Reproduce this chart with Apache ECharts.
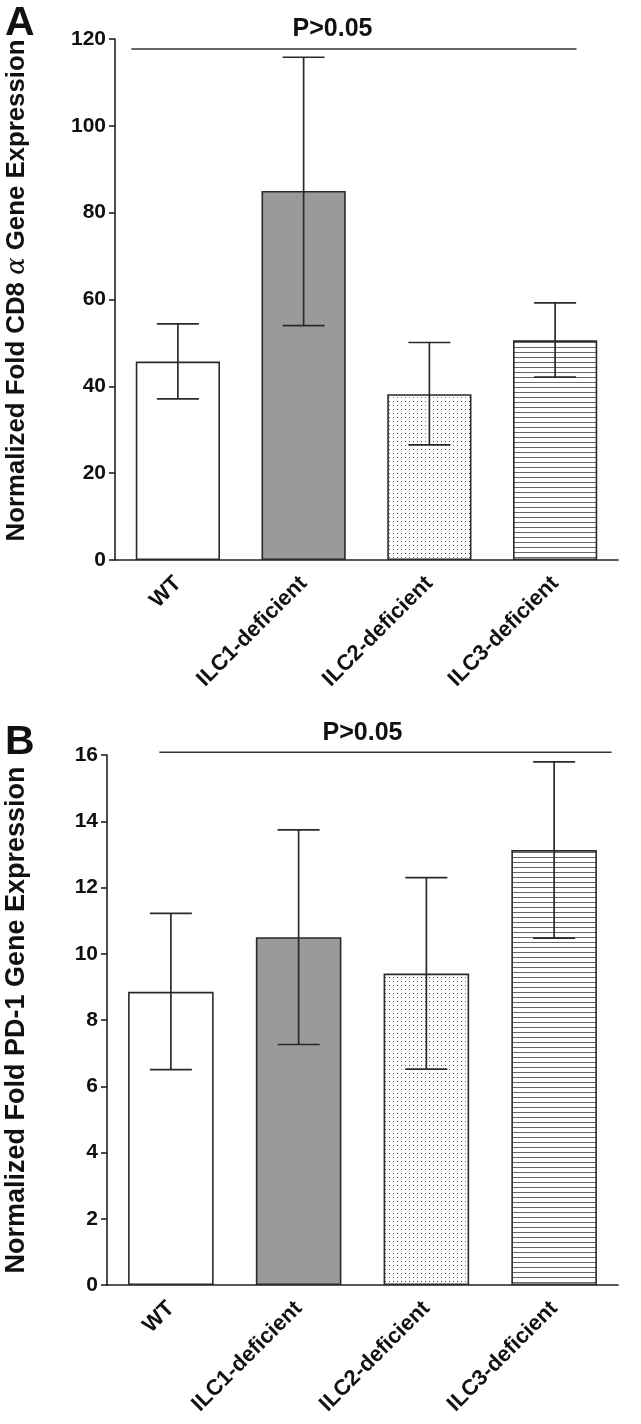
<!DOCTYPE html>
<html>
<head>
<meta charset="utf-8">
<script src="https://cdn.jsdelivr.net/npm/echarts@6/dist/echarts.min.js"></script>
<style>
html,body{margin:0;padding:0;background:#fff;}
#chart{width:641px;height:1424px;}
</style>
</head>
<body>
<div id="chart"></div>
<script>
// ---- data ----
var categories = ['WT', 'ILC1-deficient', 'ILC2-deficient', 'ILC3-deficient'];
// Panel A: CD8 alpha
var cd8Mean  = [45.7, 85.0, 38.2, 50.6];
var cd8Lower = [37.1, 54.0, 26.5, 42.1];
var cd8Upper = [54.4, 115.8, 50.1, 59.2];
var cd8Ticks = [0, 20, 40, 60, 80, 100, 120];
// Panel B: PD-1
var pd1Mean  = [8.85, 10.5, 9.4, 13.13];
var pd1Lower = [6.5, 7.26, 6.52, 10.47];
var pd1Upper = [11.22, 13.74, 12.3, 15.79];
var pd1Ticks = [0, 2, 4, 6, 8, 10, 12, 14, 16];
// significance annotations (x in category units, y in axis units)
var sigA = [-0.37, 3.17, 117.7, 1.23];   // from, to, level, text position
var sigB = [-0.09, 3.45, 16.08, 1.50];
var sigText = 'P>0.05';

// ---- fill patterns ----
function makePattern(kind) {
  var c = document.createElement('canvas');
  var ctx;
  if (kind === 'dots') {
    c.width = 4; c.height = 8;
    ctx = c.getContext('2d');
    ctx.fillStyle = '#fff'; ctx.fillRect(0, 0, 4, 8);
    ctx.fillStyle = '#444'; ctx.fillRect(1, 1, 1, 1);
    ctx.fillStyle = '#777'; ctx.fillRect(1, 5, 1, 1);
  } else {
    c.width = 4; c.height = 5;
    ctx = c.getContext('2d');
    ctx.fillStyle = '#fff'; ctx.fillRect(0, 0, 4, 5);
    ctx.fillStyle = '#666'; ctx.fillRect(0, 2, 4, 1);
  }
  return { image: c, repeat: 'repeat' };
}
var fills = ['#ffffff', '#9a9a9a', makePattern('dots'), makePattern('lines')];

var font = '"Liberation Sans", Arial, Helvetica, sans-serif';
var axisColor = '#222';

function barData(vals) {
  return vals.map(function (v, i) {
    return { value: v, itemStyle: { color: fills[i] } };
  });
}
function errData(lo, hi) {
  return lo.map(function (l, i) { return [i, l, hi[i]]; });
}
function errRender(params, api) {
  var x = api.value(0);
  var lo = api.coord([x, api.value(1)]);
  var hi = api.coord([x, api.value(2)]);
  var hw = 21;
  var st = { stroke: '#2a2a2a', lineWidth: 1.7 };
  return {
    type: 'group',
    children: [
      { type: 'line', shape: { x1: lo[0], y1: lo[1], x2: hi[0], y2: hi[1] }, style: st },
      { type: 'line', shape: { x1: hi[0] - hw, y1: hi[1], x2: hi[0] + hw, y2: hi[1] }, style: st },
      { type: 'line', shape: { x1: lo[0] - hw, y1: lo[1], x2: lo[0] + hw, y2: lo[1] }, style: st }
    ]
  };
}
function sigRender(params, api) {
  var p1 = api.coord([api.value(0), api.value(2)]);
  var p2 = api.coord([api.value(1), api.value(2)]);
  var pt = api.coord([api.value(3), api.value(2)]);
  return {
    type: 'group',
    children: [
      { type: 'line', shape: { x1: p1[0], y1: p1[1], x2: p2[0], y2: p2[1] },
        style: { stroke: '#333', lineWidth: 1.5 } },
      { type: 'text', x: pt[0], y: pt[1] - 7,
        style: { text: sigText, fill: '#111', font: 'bold 25px ' + font,
                 textAlign: 'center', textVerticalAlign: 'bottom' } }
    ]
  };
}

function catAxis(gi) {
  return {
    type: 'category', gridIndex: gi, data: categories,
    axisLine: { onZero: false, lineStyle: { color: axisColor, width: 1.6 } },
    axisTick: { alignWithLabel: true, length: 6, lineStyle: { color: axisColor, width: 1.6 } },
    axisLabel: { rotate: 45, margin: 20, color: '#111', fontSize: 22, fontWeight: 'bold', fontFamily: font, interval: 0 }
  };
}
function hiddenX(gi) {
  return { type: 'value', gridIndex: gi, min: -0.5, max: 3.5, show: false };
}
function valAxis(gi, max, interval, name, gap, shift, fs) {
  return {
    type: 'value', gridIndex: gi, min: 0, max: max, interval: interval,
    splitLine: { show: false },
    axisLine: { show: true, onZero: false, lineStyle: { color: axisColor, width: 1.6 } },
    axisTick: { show: true, length: 6, lineStyle: { color: axisColor, width: 1.6 } },
    axisLabel: { margin: 9, color: '#111', fontSize: 21, fontWeight: 'bold', fontFamily: font },
    name: name, nameLocation: 'middle', nameGap: gap,
    nameTextStyle: {
      color: '#111', fontSize: fs, fontWeight: 'bold', fontFamily: font, padding: [0, 0, 0, shift],
      rich: {
        b: { fontSize: fs, fontWeight: 'bold', fontFamily: font, color: '#111' },
        a: { fontSize: fs, fontWeight: 'normal', fontStyle: 'italic', fontFamily: '"DejaVu Serif", serif', color: '#111' }
      }
    }
  };
}

var chart = echarts.init(document.getElementById('chart'), null, { renderer: 'canvas' });
chart.setOption({
  animation: false,
  backgroundColor: '#fff',
  title: [
    { text: 'A', left: 0, top: -2, textStyle: { fontSize: 41, fontWeight: 'bold', color: '#111', fontFamily: font } },
    { text: 'B', left: 0, top: 717, textStyle: { fontSize: 41, fontWeight: 'bold', color: '#111', fontFamily: font } }
  ],
  grid: [
    { left: 115, right: 23, top: 39, height: 521, containLabel: false, outerBoundsMode: 'none' },
    { left: 107, right: 23, top: 755, height: 530, containLabel: false, outerBoundsMode: 'none' }
  ],
  xAxis: [catAxis(0), hiddenX(0), catAxis(1), hiddenX(1)],
  yAxis: [
    valAxis(0, 120, 20, '{b|Normalized Fold CD8 }{a|α}{b| Gene Expression}', 85, 18, 25.8),
    valAxis(1, 16, 2, 'Normalized Fold PD-1 Gene Expression', 77, 0, 27)
  ],
  series: [
    { type: 'bar', xAxisIndex: 0, yAxisIndex: 0, data: barData(cd8Mean), barWidth: '67%',
      itemStyle: { borderColor: '#2a2a2a', borderWidth: 1.6 }, z: 2 },
    { type: 'custom', xAxisIndex: 0, yAxisIndex: 0, data: errData(cd8Lower, cd8Upper), renderItem: errRender, z: 3 },
    { type: 'custom', xAxisIndex: 1, yAxisIndex: 0, data: [sigA], renderItem: sigRender, z: 3, clip: false },
    { type: 'bar', xAxisIndex: 2, yAxisIndex: 1, data: barData(pd1Mean), barWidth: '67%',
      itemStyle: { borderColor: '#2a2a2a', borderWidth: 1.6 }, z: 2 },
    { type: 'custom', xAxisIndex: 2, yAxisIndex: 1, data: errData(pd1Lower, pd1Upper), renderItem: errRender, z: 3 },
    { type: 'custom', xAxisIndex: 3, yAxisIndex: 1, data: [sigB], renderItem: sigRender, z: 3, clip: false }
  ]
});
</script>
</body>
</html>
